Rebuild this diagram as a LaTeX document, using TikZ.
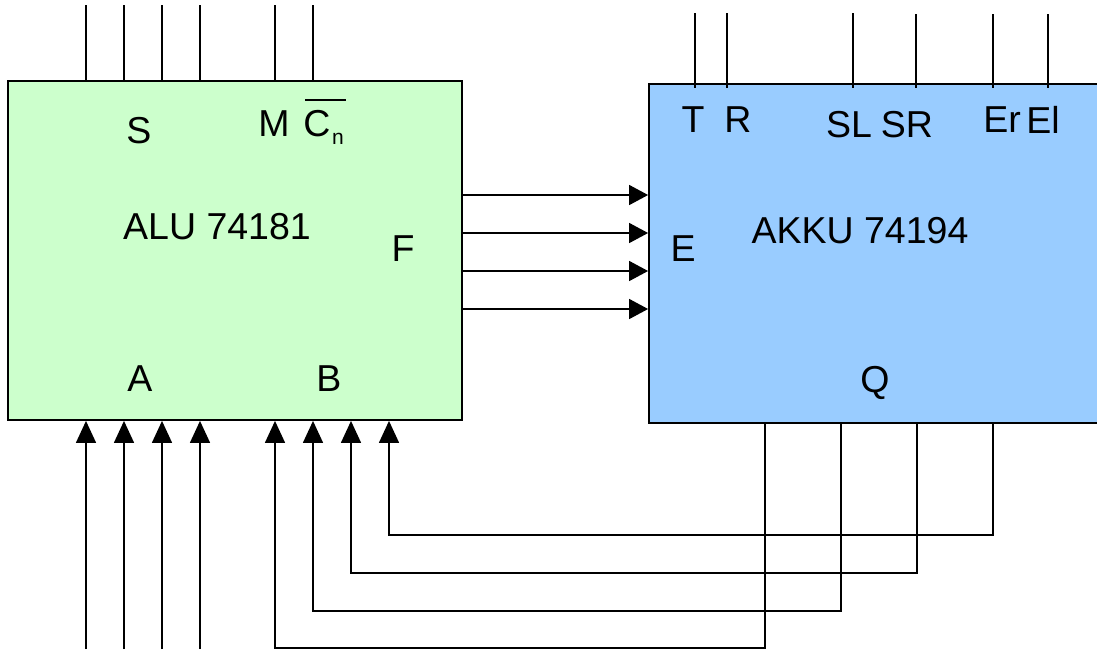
\documentclass[tikz,border=0pt]{standalone}
\usepackage{fontspec}
\setmainfont{Liberation Sans}
\usetikzlibrary{arrows.meta,calc}
\definecolor{alugreen}{HTML}{CCFFCC}
\definecolor{akkublue}{HTML}{99CCFF}
\begin{document}
\begin{tikzpicture}[x=1pt,y=-1pt,
  box/.style={draw=black,line width=1.8pt,rectangle,inner sep=0pt},
  lbl/.style={inner sep=0pt,font=\fontsize{37.5}{40}\selectfont},
  wire/.style={line width=1.4pt},
  arrH/.style={wire,-{Triangle[length=19pt,width=20pt]}},
  arrV/.style={wire,-{Triangle[length=22pt,width=20pt]}}]
\useasboundingbox (0,0) rectangle (1097,649);
\clip (0,0) rectangle (1097,649);
% boxes
\node[box,fill=alugreen,minimum width=454pt,minimum height=339pt] (alu) at (235,250.5) {};
\node[box,fill=akkublue,minimum width=461pt,minimum height=339pt] (akku) at (879.5,253.5) {};
% ALU labels
\node[lbl] (lS) at (139,131) {S};
\node[lbl] (lM) at (274,124) {M};
\node[lbl] (lC) at (317,124) {C};
\node[inner sep=0pt,font=\fontsize{21}{24}\selectfont] (ln) at (338,139) {n};
\coordinate (ovl) at (305,100);
\coordinate (ovr) at (346,100);
\draw[line width=1.3pt] (ovl) -- (ovr);
\node[lbl] (lalu) at (217,227) {ALU 74181};
\node[lbl] (lF) at (403,249) {F};
\node[lbl] (lA) at (140,379) {A};
\node[lbl] (lB) at (329,379) {B};
% AKKU labels
\node[lbl] (lT) at (693,120) {T};
\node[lbl] (lR) at (738,120) {R};
\node[lbl] (lSL) at (849,125) {SL};
\node[lbl] (lSR) at (907,125) {SR};
\node[lbl] (lEr) at (1002,120) {Er};
\node[lbl] (lEl) at (1043,120) {El};
\node[lbl] (lE) at (683,249) {E};
\node[lbl] (lakku) at (860,231) {AKKU 74194};
\node[lbl] (lQ) at (875,383) {Q};
% ALU top control lines
\foreach \i/\x in {1/86,2/124,3/162,4/200,5/275,6/313}{
  \coordinate (s\i) at (\x,5);
  \draw[wire] (s\i) -- (s\i |- alu.north);
}
% AKKU top control lines
\foreach \i/\x/\y in {1/695/13,2/727/13,3/853/13,4/916/14,5/993/14,6/1048/14}{
  \coordinate (t\i) at (\x,\y);
  \draw[wire] (t\i) -- ($(t\i |- akku.north)+(0,5)$);
}
% F -> E data lines
\foreach \i/\y in {1/195,2/233,3/271,4/309}{
  \coordinate (f\i) at (0,\y);
  \draw[arrH] (alu.east |- f\i) -- (akku.west |- f\i);
}
% A inputs
\foreach \i/\x in {1/86,2/124,3/162,4/200}{
  \coordinate (a\i) at (\x,649);
  \draw[arrV] (a\i) -- (a\i |- alu.south);
}
% Q -> B feedback
\foreach \i/\qx/\bx/\hy in {1/765/275/648,2/841/313/611,3/917/351/573,4/993/389/535}{
  \coordinate (q\i) at (\qx,0);
  \coordinate (h\i) at (\bx,\hy);
  \draw[arrV] (akku.south -| q\i) |- (h\i) -- (h\i |- alu.south);
}
\end{tikzpicture}
\end{document}
